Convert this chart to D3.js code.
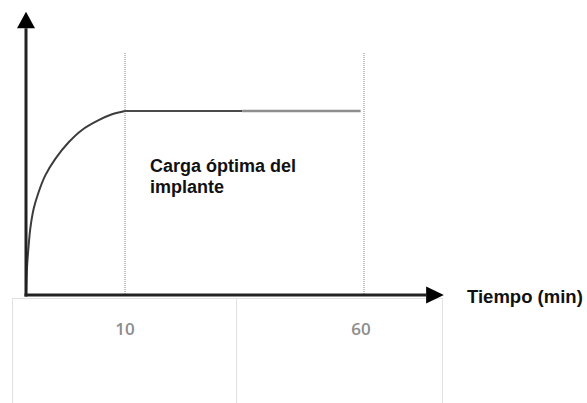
<!DOCTYPE html>
<html lang="es">
<head>
<meta charset="utf-8">
<style>
  body { margin: 0; background: #fff; }
  svg { display: block; }
</style>
</head>
<body>
<div id="chart"></div>
<script src="https://d3js.org/d3.v7.min.js"></script>
<script>
// tiempo (min) y carga (%)
var riseTime = [0, 0.1, 0.27, 0.43, 0.78, 1.28, 1.95, 2.96, 4.31, 5.66, 7.34, 8.69, 10];
var riseLoad = [0, 15, 27, 36, 47, 56, 65, 74, 83, 89.7, 95, 98.2, 100];
var plateauTime = [10, 34.5, 59.3];
var plateauLoad = [100, 100, 100];
var markTimes = [10, 60];
var tickLabels = ["10", "60"];
var gridEdges = [-1.4, 33.2, 76.3];
var label = ["Carga óptima del", "implante"];
var xTitle = "Tiempo (min)";

var width = 587, height = 403;

var svg = d3.select("#chart").append("svg")
  .attr("width", width)
  .attr("height", height);

// eje x no lineal: el tramo 0-10 esta estirado en el esquema
var x = d3.scaleLinear().domain([0, 10, 60]).range([26, 125, 364]);
var y = d3.scaleLinear().domain([0, 100]).range([295, 111]);

// cuadricula tipo tabla debajo del eje
var grid = svg.append("g").attr("stroke", "#e2e2e2").attr("stroke-width", 1);
grid.append("line")
  .attr("x1", x(gridEdges[0])).attr("x2", x(gridEdges[2]))
  .attr("y1", 298.5).attr("y2", 298.5);
grid.selectAll("line.v").data(gridEdges).enter().append("line")
  .attr("class", "v")
  .attr("x1", function(d) { return Math.round(x(d)) + 0.5; })
  .attr("x2", function(d) { return Math.round(x(d)) + 0.5; })
  .attr("y1", 298).attr("y2", height);

// lineas punteadas verticales
svg.selectAll("line.mark").data(markTimes).enter().append("line")
  .attr("class", "mark")
  .attr("x1", function(d) { return x(d); })
  .attr("x2", function(d) { return x(d); })
  .attr("y1", y(131.5)).attr("y2", y(0))
  .attr("stroke", "#9a9a9a")
  .attr("stroke-width", 1.2)
  .attr("stroke-dasharray", "1,1");

// curva de subida
var rise = riseTime.map(function(t, i) { return [t, riseLoad[i]]; });
var line = d3.line()
  .x(function(d) { return x(d[0]); })
  .y(function(d) { return y(d[1]); })
  .curve(d3.curveCatmullRom.alpha(0.5));

svg.append("path")
  .datum(rise)
  .attr("d", line)
  .attr("fill", "none")
  .attr("stroke", "#3c3c3c")
  .attr("stroke-width", 2);

// meseta: primera parte oscura, segunda mas clara
svg.append("line")
  .attr("x1", x(plateauTime[0])).attr("x2", x(plateauTime[1]))
  .attr("y1", y(plateauLoad[0])).attr("y2", y(plateauLoad[1]))
  .attr("stroke", "#4a4a4a").attr("stroke-width", 2);
svg.append("line")
  .attr("x1", x(plateauTime[1])).attr("x2", x(plateauTime[2]))
  .attr("y1", y(plateauLoad[1])).attr("y2", y(plateauLoad[2]))
  .attr("stroke", "#8e8e8e").attr("stroke-width", 2.5);

// ejes con flechas
var axisColor = "#222";
svg.append("line")
  .attr("x1", x(0)).attr("x2", x(0))
  .attr("y1", y(0) + 1.5).attr("y2", y(145))
  .attr("stroke", axisColor).attr("stroke-width", 3);
svg.append("path")
  .attr("d", "M" + x(0) + "," + y(154) + "L" + (x(0) + 9) + "," + y(145) + "L" + (x(0) - 9) + "," + y(145) + "Z")
  .attr("fill", "#000");

svg.append("line")
  .attr("x1", x(0) - 1.5).attr("x2", x(73))
  .attr("y1", y(0)).attr("y2", y(0))
  .attr("stroke", axisColor).attr("stroke-width", 3);
svg.append("path")
  .attr("d", "M" + x(76.7) + "," + y(0) + "L" + x(73) + "," + (y(0) - 8.5) + "L" + x(73) + "," + (y(0) + 8.5) + "Z")
  .attr("fill", "#000");

// etiquetas del eje x
svg.selectAll("text.tick").data(markTimes).enter().append("text")
  .attr("class", "tick")
  .attr("x", function(d) { return x(d) - (d === 60 ? 3 : 0); })
  .attr("y", 335)
  .attr("text-anchor", "middle")
  .attr("font-family", "'Open Sans', sans-serif")
  .attr("font-size", 17)
  .attr("font-weight", 600)
  .attr("fill", "#8c8c8c")
  .text(function(d, i) { return tickLabels[i]; });

svg.append("text")
  .attr("x", 467)
  .attr("y", 303)
  .attr("font-family", "'Liberation Sans', Arial, sans-serif")
  .attr("font-weight", "bold")
  .attr("font-size", 18.5)
  .attr("fill", "#111")
  .text(xTitle);

svg.selectAll("text.lbl").data(label).enter().append("text")
  .attr("class", "lbl")
  .attr("x", 150)
  .attr("y", function(d, i) { return 172 + i * 21; })
  .attr("font-family", "'Liberation Sans', Arial, sans-serif")
  .attr("font-weight", "bold")
  .attr("font-size", 18)
  .attr("fill", "#111")
  .text(function(d) { return d; });
</script>
</body>
</html>
